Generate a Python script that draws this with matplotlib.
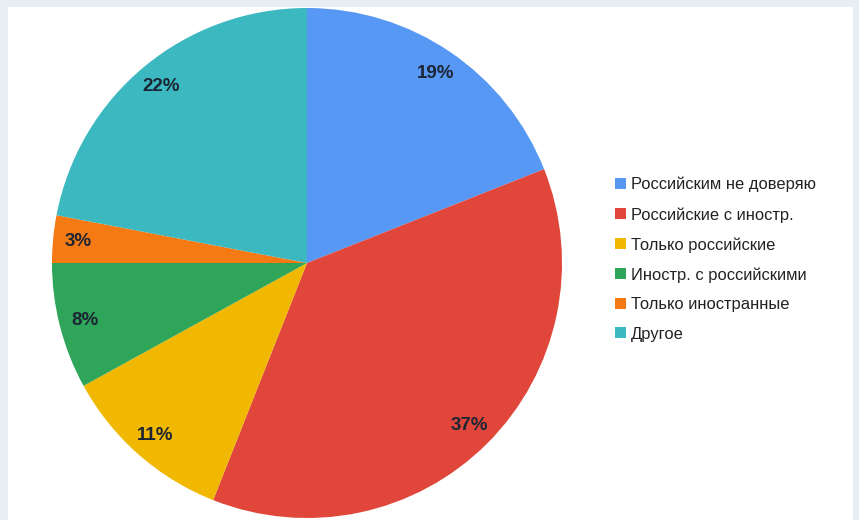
import matplotlib
matplotlib.use("Agg")
import matplotlib.pyplot as plt
from matplotlib.patches import Rectangle, Patch

labels = ["Российским не доверяю", "Российские с иностр.", "Только российские",
          "Иностр. с российскими", "Только иностранные", "Другое"]
values = [19, 37, 11, 8, 3, 22]
colors = ["#5898f5", "#e0473a", "#f0b800", "#2fa55a", "#f57a14", "#3bb8c0"]

W, H = 859, 520
fig = plt.figure(figsize=(W / 100, H / 100), dpi=100)
fig.patch.set_facecolor("#e8eef2")
fig.patches.append(Rectangle((8 / W, 0), 845 / W, 513 / H, transform=fig.transFigure,
                             facecolor="white", edgecolor="none", zorder=-5))

cx, cy, r = 307, 263, 255
ax = fig.add_axes([(cx - r) / W, (H - cy - r) / H, 2 * r / W, 2 * r / H])
ax.set_zorder(5)
wedges, texts, autotexts = ax.pie(
    values, colors=colors, startangle=90, counterclock=False,
    autopct=lambda p: f"{p:.0f}%", pctdistance=0.9,
    wedgeprops=dict(linewidth=0, edgecolor="none"),
    textprops=dict(fontsize=13.5, fontweight="bold", color="#1c2533",
                   family="Liberation Sans"))
ax.set_xlim(-1, 1)
ax.set_ylim(-1, 1)
ax.set_aspect("equal")
ax.axis("off")

handles = [Patch(facecolor=c, edgecolor="none") for c in colors]
leg = fig.legend(handles, labels, loc="upper left", bbox_to_anchor=(615 / W, 1 - 177 / H),
                 frameon=False, prop=dict(family="Liberation Sans", size=11.9),
                 handlelength=0.65, handleheight=0.65, handletextpad=0.3,
                 labelspacing=0.88, borderpad=0, borderaxespad=0)
leg.set_zorder(6)
for t in leg.get_texts():
    t.set_color("#222222")

fig.savefig("out.png", dpi=100, facecolor=fig.get_facecolor())
